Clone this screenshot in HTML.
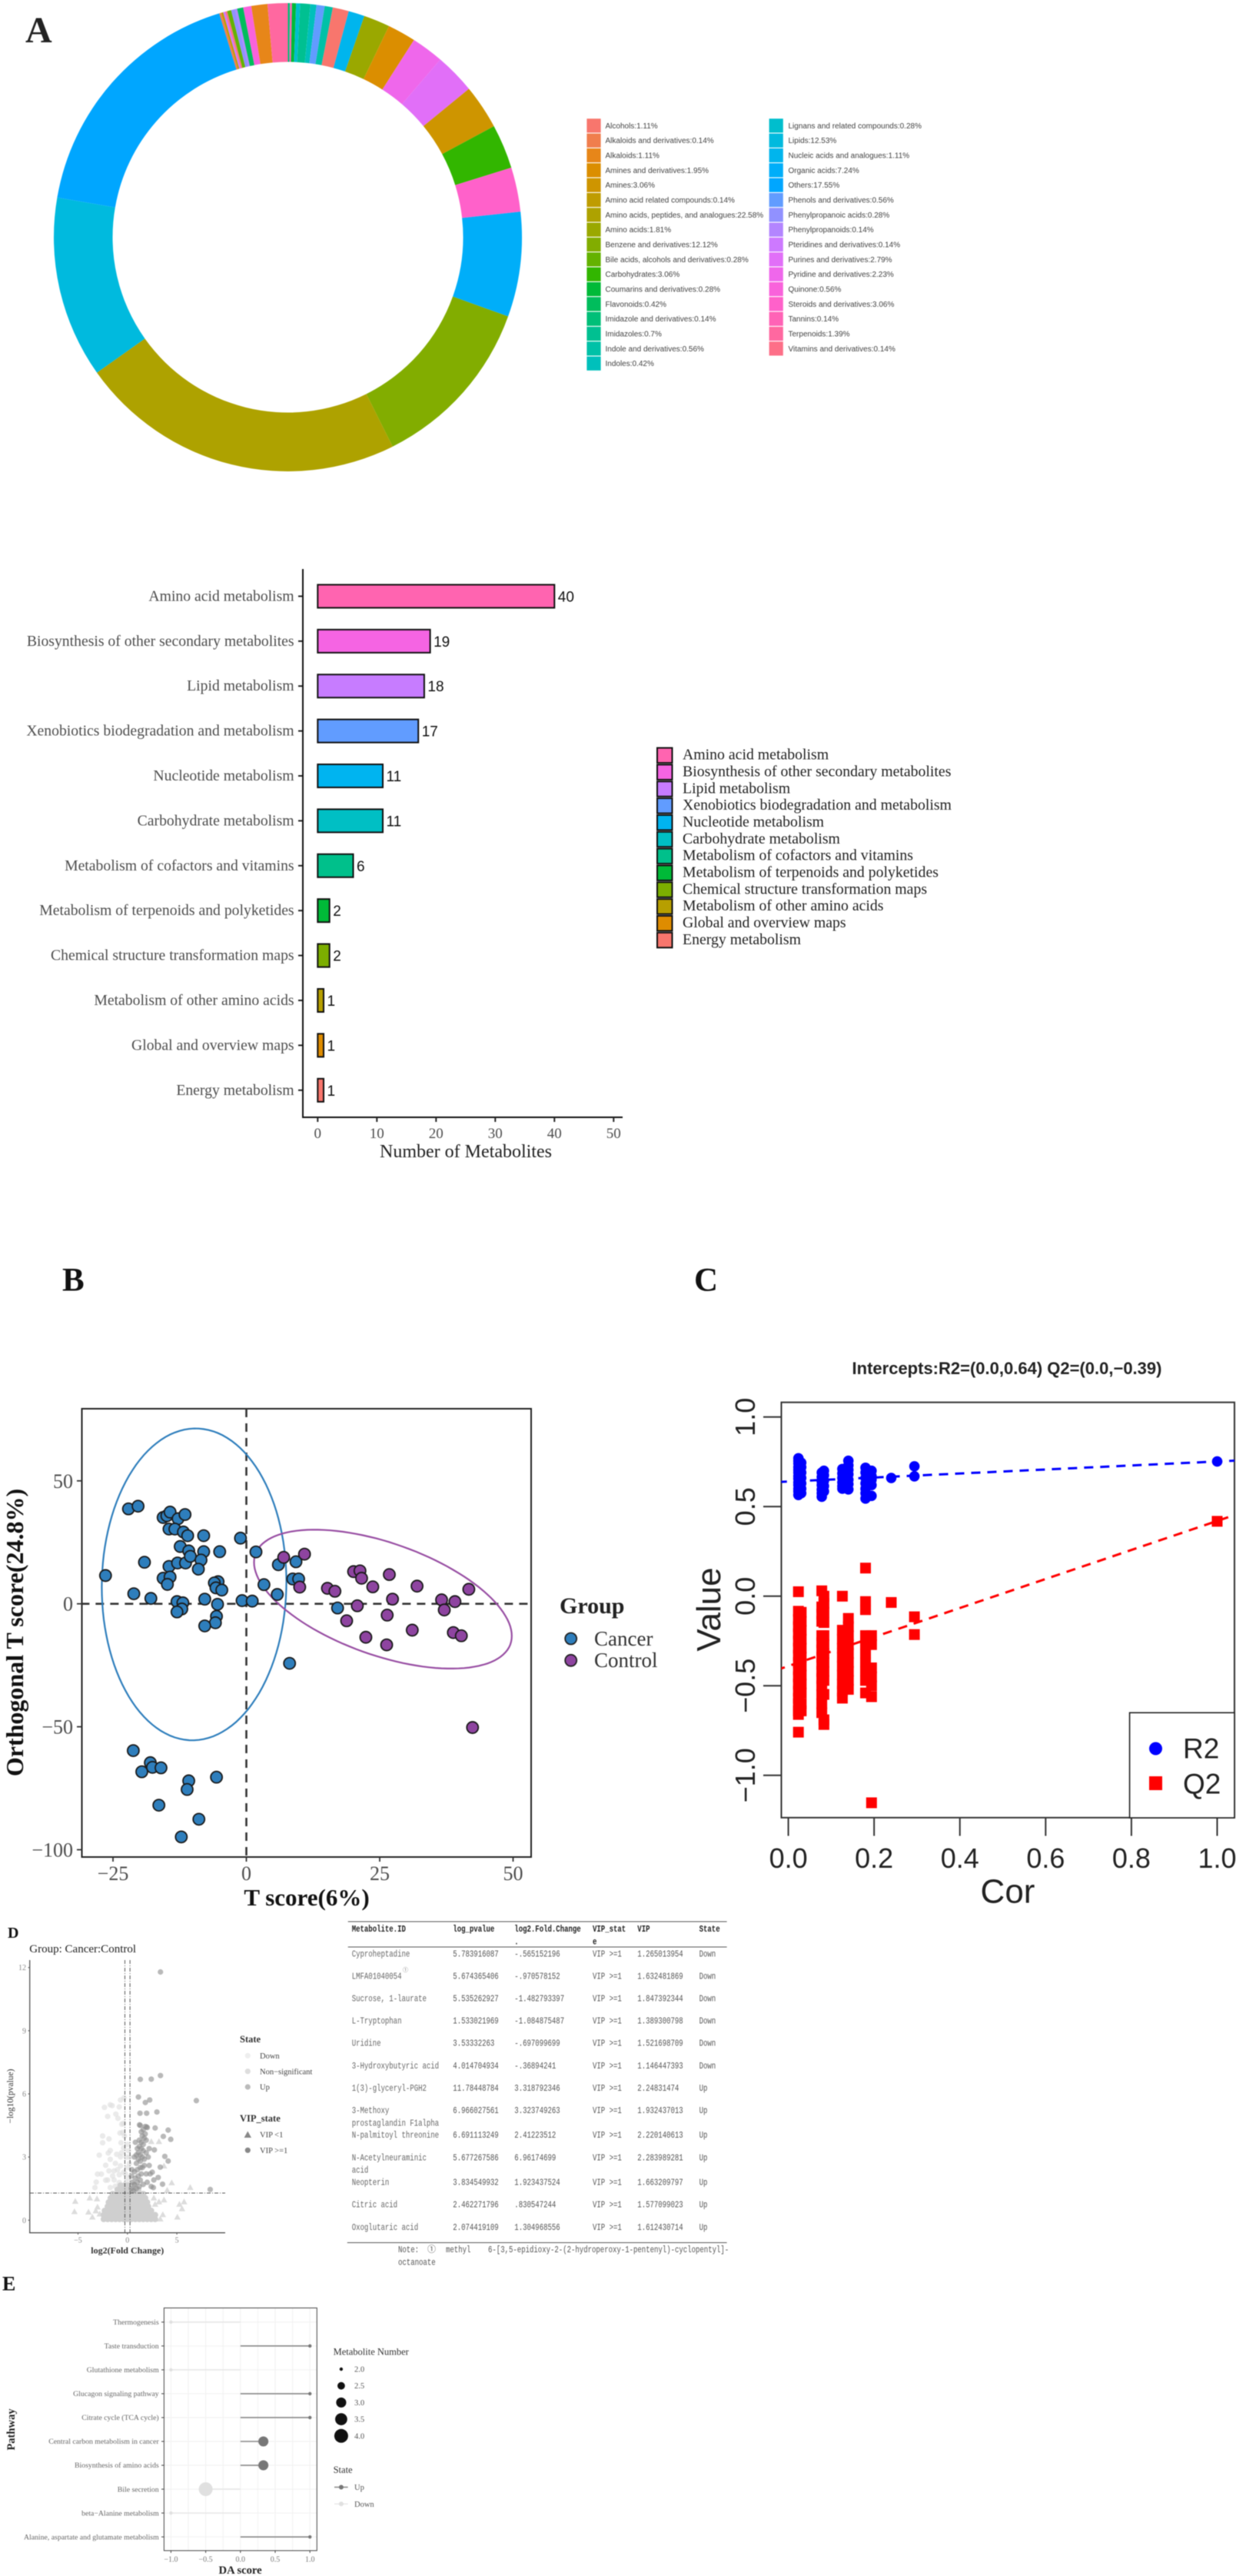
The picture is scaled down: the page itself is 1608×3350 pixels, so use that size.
<!DOCTYPE html>
<html lang="en">
<head>
<meta charset="utf-8">
<title>Metabolomics multi-panel figure</title>
<style>
html,body{margin:0;padding:0;background:#fff;width:1608px;height:3350px;overflow:hidden}
svg{display:block;filter:blur(0.5px)}
text{font-family:"Liberation Serif","Noto Serif CJK SC",serif}
.sans text,text.sans{font-family:"Liberation Sans","Noto Sans CJK SC",sans-serif}
.mono text{font-family:"Liberation Mono","Noto Sans CJK SC",monospace}
</style>
</head>
<body>
<svg id="figure" width="1608" height="3350" viewBox="0 0 1608 3350">
  <rect x="0" y="0" width="1608" height="3350" fill="#ffffff"/>

  <text x="33" y="55" font-size="48" font-weight="bold" fill="#222">A</text>
  <text x="81" y="1678.5" font-size="43" font-weight="bold" fill="#111">B</text>
  <text x="903" y="1678.5" font-size="43" font-weight="bold" fill="#111">C</text>
  <text x="10" y="2520" font-size="20" font-weight="bold" fill="#111">D</text>
  <text x="3" y="2978.5" font-size="26" font-weight="bold" fill="#111">E</text>

  <g id="donut"></g>
  <g id="donut-legend" class="sans"></g>

  <g id="bars"></g>
  <text x="606" y="1505" font-size="24" text-anchor="middle" fill="#222">Number of Metabolites</text>
  <g id="bar-legend"></g>

  <g id="pca"></g>
  <text x="399" y="2478" font-size="31" font-weight="bold" text-anchor="middle" fill="#111">T score(6%)</text>
  <text transform="rotate(-90 30 2123)" x="30" y="2123" font-size="32" font-weight="bold" text-anchor="middle" fill="#111">Orthogonal T score(24.8%)</text>
  <text x="728" y="2098" font-size="30" font-weight="bold" fill="#222">Group</text>
  <circle cx="742.7" cy="2131" r="7.5" fill="#2E7EBC" stroke="#222" stroke-width="1.8"/>
  <text x="773" y="2140" font-size="27" fill="#333">Cancer</text>
  <circle cx="742.7" cy="2159.3" r="7.5" fill="#8E44A0" stroke="#222" stroke-width="1.8"/>
  <text x="773" y="2168" font-size="27" fill="#333">Control</text>

  <defs>
    <clipPath id="perm-clip"><rect x="1016.5" y="1823.7" width="589.5" height="540.1"></rect></clipPath>
  </defs>
  <g id="perm" class="sans"></g>
  <g class="sans">
    <text x="1310" y="1787" font-size="22" font-weight="bold" text-anchor="middle" fill="#222">Intercepts:R2=(0.0,0.64) Q2=(0.0,−0.39)</text>
    <text x="1311" y="2474.6" font-size="44" text-anchor="middle" fill="#222">Cor</text>
    <text transform="rotate(-90 937 2093)" x="937" y="2093" font-size="44" text-anchor="middle" fill="#222">Value</text>
    <rect x="1469.6" y="2227.3" width="136.4" height="136.7" fill="#fff" stroke="#222" stroke-width="1.6"/>
    <circle cx="1503.5" cy="2274" r="8.5" fill="#0000ff"/>
    <text x="1539" y="2286.5" font-size="37" fill="#222">R2</text>
    <rect x="1495" y="2310" width="17" height="18" fill="#ff0000"/>
    <text x="1539" y="2332.5" font-size="37" fill="#222">Q2</text>
  </g>

  <text x="38.3" y="2539" font-size="15" fill="#222">Group: Cancer:Control</text>
  <g id="volcano"></g>
  <text x="165.8" y="2930.5" font-size="12" font-weight="bold" text-anchor="middle" fill="#333">log2(Fold Change)</text>
  <text transform="rotate(-90 17 2726)" x="17" y="2726" font-size="11.5" text-anchor="middle" fill="#333">−log10(pvalue)</text>
  <g>
    <text x="312" y="2656" font-size="12.5" font-weight="bold" fill="#333">State</text>
    <circle cx="322.3" cy="2673.3" r="3.6" fill="#eeeeee"/>
    <text x="338" y="2677" font-size="10.5" fill="#444">Down</text>
    <circle cx="322.3" cy="2693.7" r="3.6" fill="#dddddd"/>
    <text x="338" y="2697.4" font-size="10.5" fill="#444">Non−significant</text>
    <circle cx="322.3" cy="2714" r="3.6" fill="#bbbbbb"/>
    <text x="338" y="2717.7" font-size="10.5" fill="#444">Up</text>
    <text x="312" y="2759" font-size="12.5" font-weight="bold" fill="#333">VIP_state</text>
    <path d="M322.3 2771.5 L327 2780 L317.6 2780 Z" fill="#888888"/>
    <text x="338" y="2779.7" font-size="10.5" fill="#444">VIP &lt;1</text>
    <circle cx="322.3" cy="2796.3" r="3.6" fill="#888888"/>
    <text x="338" y="2800" font-size="10.5" fill="#444">VIP &gt;=1</text>
  </g>

  <g id="metabolite-table" class="mono"></g>

  <g id="lollipop"></g>
  <text x="312.6" y="3347" font-size="14.6" font-weight="bold" text-anchor="middle" fill="#222">DA score</text>
  <text transform="rotate(-90 19 3159.5)" x="19" y="3159.5" font-size="14.6" font-weight="bold" text-anchor="middle" fill="#222">Pathway</text>
  <text x="433.6" y="3062.5" font-size="12.5" fill="#333">Metabolite Number</text>
  <text x="433.6" y="3216" font-size="12.5" fill="#333">State</text>
  <g id="da-legend"></g>
</svg>

<script>
/* ---------- donut data ---------- */
const donutCategories = ["Alcohols","Alkaloids and derivatives","Alkaloids","Amines and derivatives","Amines","Amino acid related compounds","Amino acids, peptides, and analogues","Amino acids","Benzene and derivatives","Bile acids, alcohols and derivatives","Carbohydrates","Coumarins and derivatives","Flavonoids","Imidazole and derivatives","Imidazoles","Indole and derivatives","Indoles","Lignans and related compounds","Lipids","Nucleic acids and analogues","Organic acids","Others","Phenols and derivatives","Phenylpropanoic acids","Phenylpropanoids","Pteridines and derivatives","Purines and derivatives","Pyridine and derivatives","Quinone","Steroids and derivatives","Tannins","Terpenoids","Vitamins and derivatives"];
const donutValues = [1.11,0.14,1.11,1.95,3.06,0.14,22.58,1.81,12.12,0.28,3.06,0.28,0.42,0.14,0.7,0.56,0.42,0.28,12.53,1.11,7.24,17.55,0.56,0.28,0.14,0.14,2.79,2.23,0.56,3.06,0.14,1.39,0.14];
const donutOrder = ["Imidazole and derivatives","Tannins","Coumarins and derivatives","Lignans and related compounds","Imidazoles","Indoles","Phenols and derivatives","Indole and derivatives","Alcohols","Nucleic acids and analogues","Amino acids","Amines and derivatives","Pyridine and derivatives","Purines and derivatives","Amines","Carbohydrates","Steroids and derivatives","Organic acids","Benzene and derivatives","Amino acids, peptides, and analogues","Lipids","Others","Alkaloids and derivatives","Amino acid related compounds","Pteridines and derivatives","Vitamins and derivatives","Bile acids, alcohols and derivatives","Phenylpropanoic acids","Phenylpropanoids","Flavonoids","Quinone","Alkaloids","Terpenoids"];

/* ---------- bar data ---------- */
const barCategories = ["Amino acid metabolism","Biosynthesis of other secondary metabolites","Lipid metabolism","Xenobiotics biodegradation and metabolism","Nucleotide metabolism","Carbohydrate metabolism","Metabolism of cofactors and vitamins","Metabolism of terpenoids and polyketides","Chemical structure transformation maps","Metabolism of other amino acids","Global and overview maps","Energy metabolism"];
const barValues = [40,19,18,17,11,11,6,2,2,1,1,1];
const barTicks = [0,10,20,30,40,50];

/* ---------- score plot data: [T score, orthogonal T score] ---------- */
const pcaCancer = [[-26.4,11.5],[-22.1,38.6],[-20.3,39.7],[-15.6,35.1],[-14.9,35.8],[-14.3,37.3],[-12.8,34.6],[-11.5,36.3],[-14.5,30.4],[-13.4,30.4],[-11.8,29.2],[-11,27.7],[-8,27.7],[-1.1,26.7],[-12.4,23.3],[-10.8,21.5],[-8,21.2],[-5,21.2],[1.8,21.1],[-19.1,16.9],[-14.5,15.2],[-12.9,16.6],[-11.4,16.6],[-10.5,19.3],[-8.5,17.8],[-9,14.1],[6,15.9],[9.3,17.1],[-15.6,10.4],[-14.3,10.9],[-14.8,7.9],[-5.3,9],[-6,8.5],[-5.7,6.5],[-4.6,5.6],[3.3,7.8],[5.8,3.8],[8.7,10.1],[9.8,10.1],[-21.1,4.1],[-17.9,2.2],[-13,0.9],[-11.9,0.4],[-7.8,1.9],[-5.4,-0.2],[-0.8,1.3],[1.1,1.1],[-12.1,-2.1],[-13,-3.3],[-5.6,-5.1],[-5.8,-7.7],[-7.8,-9],[17.1,-1.7],[8.1,-24.2],[-21.2,-59.7],[-18,-64.6],[-17.6,-66.5],[-16,-66.7],[-19.6,-68.3],[-10.8,-72],[-11.1,-75.5],[-5.6,-70.5],[-16.4,-81.9],[-8.9,-87.6],[-12.2,-94.8]];
const pcaControl = [[7,18.9],[10.9,20.2],[10,6.8],[15.2,6.3],[16.6,5.1],[20.1,13.1],[21.3,13.4],[21.6,10.4],[23.7,6.9],[26.8,11.9],[27.4,1.9],[32,7.2],[20.8,-0.8],[26.4,-4.6],[18.8,-6.9],[31.1,-10.7],[22.4,-13.6],[26.3,-16.7],[36.6,1.6],[39.1,0.9],[37.1,-2.5],[41.7,5.9],[38.8,-11.7],[40.3,-13],[42.4,-50.3]];
const pcaXTicks = [-25,0,25,50];
const pcaYTicks = [50,0,-50,-100];
const cancerEllipseCentre = [-9.8,7.9];
const cancerEllipseSpread = [17.3,63.4];
const cancerEllipsePhase = 89;
const controlEllipseCentre = [25.6,1.9];
const controlEllipseSpread = [24.16,28.24];
const controlEllipsePhase = 122;

/* ---------- permutation data: [cor, value] ---------- */
const r2Points = [[0.0235,0.77],[0.0235,0.755],[0.0235,0.74],[0.0235,0.72],[0.0235,0.705],[0.0235,0.69],[0.0235,0.67],[0.0235,0.655],[0.0235,0.635],[0.0235,0.62],[0.0235,0.6],[0.0235,0.585],[0.0235,0.565],[0.03,0.745],[0.03,0.72],[0.03,0.69],[0.03,0.66],[0.03,0.63],[0.03,0.6],[0.03,0.575],[0.078,0.69],[0.078,0.665],[0.078,0.64],[0.078,0.62],[0.078,0.595],[0.078,0.575],[0.078,0.555],[0.083,0.7],[0.083,0.675],[0.083,0.645],[0.083,0.615],[0.083,0.585],[0.126,0.71],[0.126,0.685],[0.126,0.66],[0.126,0.635],[0.126,0.615],[0.126,0.6],[0.14,0.756],[0.14,0.73],[0.14,0.705],[0.14,0.68],[0.14,0.65],[0.14,0.625],[0.14,0.596],[0.18,0.717],[0.18,0.69],[0.18,0.66],[0.18,0.63],[0.18,0.6],[0.18,0.575],[0.18,0.545],[0.194,0.7],[0.194,0.67],[0.194,0.65],[0.194,0.62],[0.194,0.56],[0.24,0.66],[0.294,0.725],[0.294,0.669],[1,0.752]];
const q2Points = [[0.0235,0.025],[0.0235,-0.084],[0.0235,-0.13],[0.0235,-0.17],[0.0235,-0.21],[0.0235,-0.25],[0.0235,-0.29],[0.0235,-0.33],[0.0235,-0.37],[0.0235,-0.41],[0.0235,-0.45],[0.0235,-0.49],[0.0235,-0.53],[0.0235,-0.57],[0.0235,-0.6],[0.0235,-0.64],[0.0235,-0.66],[0.0235,-0.759],[0.03,-0.09],[0.03,-0.14],[0.03,-0.19],[0.03,-0.24],[0.03,-0.29],[0.03,-0.34],[0.03,-0.39],[0.03,-0.44],[0.03,-0.49],[0.03,-0.54],[0.03,-0.6],[0.03,-0.64],[0.078,0.03],[0.078,-0.06],[0.078,-0.1],[0.078,-0.14],[0.078,-0.22],[0.078,-0.26],[0.078,-0.3],[0.078,-0.34],[0.078,-0.38],[0.078,-0.42],[0.078,-0.46],[0.078,-0.5],[0.078,-0.55],[0.078,-0.6],[0.078,-0.65],[0.083,0.0],[0.083,-0.04],[0.083,-0.09],[0.083,-0.147],[0.083,-0.22],[0.083,-0.27],[0.083,-0.32],[0.083,-0.37],[0.083,-0.42],[0.083,-0.47],[0.083,-0.548],[0.083,-0.69],[0.083,-0.716],[0.126,0.0],[0.126,-0.19],[0.126,-0.24],[0.126,-0.29],[0.126,-0.34],[0.126,-0.39],[0.126,-0.44],[0.126,-0.49],[0.126,-0.53],[0.126,-0.569],[0.14,-0.124],[0.14,-0.17],[0.14,-0.22],[0.14,-0.27],[0.14,-0.32],[0.14,-0.37],[0.14,-0.42],[0.14,-0.47],[0.14,-0.52],[0.18,0.157],[0.18,-0.03],[0.18,-0.075],[0.18,-0.22],[0.18,-0.27],[0.18,-0.32],[0.18,-0.37],[0.18,-0.42],[0.18,-0.47],[0.18,-0.54],[0.194,-0.22],[0.194,-0.27],[0.194,-0.4],[0.194,-0.45],[0.194,-0.5],[0.194,-0.561],[0.194,-1.153],[0.24,-0.035],[0.294,-0.115],[0.294,-0.214],[1,0.418]];
const permXTicks = [0,0.2,0.4,0.6,0.8,1];
const permYTicks = [1,0.5,0,-0.5,-1];
const r2Intercept = 0.64;
const r2Slope = 0.112;
const q2Intercept = -0.39;
const q2Slope = 0.81;

/* ---------- volcano data: [log2 FC, -log10 p] ---------- */
const volcanoMassLevels = [0.05,0.25,0.45,0.65,0.85,1.05,1.25,1.45,1.65];
const volcanoMassFold = [
 [-2.4,-2,-1.6,-1.2,-0.8,-0.4,0,0.4,0.8,1.2,1.6,2,2.4,2.8],
 [-2.4,-2,-1.6,-1.2,-0.8,-0.4,0,0.4,0.8,1.2,1.6,2,2.4,2.8],
 [-2.3,-1.9,-1.5,-1.1,-0.7,-0.3,0.1,0.5,0.9,1.3,1.7,2.1,2.4],
 [-2,-1.6,-1.2,-0.8,-0.4,0,0.4,0.8,1.2,1.6,2.1],
 [-1.9,-1.5,-1.1,-0.7,-0.3,0.1,0.5,0.9,1.3,1.7,2],
 [-1.7,-1.3,-0.9,-0.5,-0.1,0.3,0.7,1.1,1.5,1.8],
 [-1.5,-1.1,-0.7,-0.3,0.1,0.5,0.9,1.3,1.6],
 [-1,-0.6,-0.2,0.2,0.6,1.1],
 [-0.7,-0.3,0,0.3,0.7]
];
const volcanoDown = [[-2.33,5.36],[-1.74,5.48],[-1.55,5.44],[-0.83,5.38],[-0.7,5.71],[-0.36,5.81],[-2,4.93],[-1.17,5.04],[-0.96,4.84],[-0.57,4.56],[-0.49,4.17],[-0.75,4.14],[-2.51,4],[-2.51,3.68],[-1.87,3.86],[-0.65,3.68],[-0.39,3.43],[-1.74,3.31],[-1.94,3.19],[-2.85,3.09],[-1.09,3.13],[-0.7,3.01],[-2.2,2.61],[-1.74,2.89],[-1.22,2.7],[-0.7,2.58],[-3.03,2.19],[-2.64,2.19],[-1.87,2.34],[-1.35,2.34],[-0.83,2.16],[-0.39,2.28],[-3.16,1.81],[-2,1.91],[-1.35,1.91],[-0.83,1.79],[-3.29,1.55],[-1.74,1.55],[-1.22,1.61],[-0.7,1.49],[-0.31,1.61],[0,3.6],[0.1,3.3],[0.2,3],[-0.1,3],[0,2.5],[0.1,2],[-0.1,1.8],[0.2,1.6],[-0.2,2.2],[0.2,2.7],[-0.4,4.6],[-0.3,4],[-0.6,3.2],[-1.5,2.1],[-1,2.4],[-2.2,1.9]];
const volcanoUp = [[3.34,11.79],[1.3,6.69],[2.41,6.7],[3.34,6.87],[6.97,5.68],[1.11,5.85],[1.81,5.59],[2.25,5.71],[1.27,5.08],[1.94,5.08],[2.98,5.14],[1.22,4.53],[1.94,4.43],[2.8,4.38],[4.12,4.28],[3.63,3.98],[4.38,3.84],[2.72,3.34],[3.78,3.03],[4.12,2.81],[3.32,2.52],[2.51,2.28],[3.11,2.03],[2.67,1.91],[3.55,1.71],[2.62,1.55],[8.37,1.46],[0.4,1.5],[0.5,1.8],[0.4,2.1],[0.45,2.4],[0.6,1.4],[0.7,1.7],[0.8,2],[0.7,2.3],[0.9,1.5],[1,1.8],[1.1,2.1],[1,2.4],[1.2,1.6],[1.3,1.9],[1.4,2.2],[1.3,2.5],[1.6,1.7],[1.5,2.5],[1.7,2.6],[0.9,2.7],[1.1,2.9],[1.3,2.8],[0.7,3],[0.9,3.1],[1.1,3.2],[1.3,3.1],[1.5,3],[1.7,2.9],[1,3.4],[1.2,3.5],[1.4,3.4],[1.6,3.3],[0.8,3.7],[1.2,3.8],[1.4,3.7],[1.6,3.6],[1.5,4],[1.7,3.9],[1.9,3.8],[1.4,4.2],[1.6,4.3],[1.8,4.1],[2,4.4],[1.3,4.5],[1.8,4.45],[2.1,3],[2.2,2.6],[1.9,2.2],[2.3,2.2],[2,1.8],[2.4,1.6],[2.2,3.4],[1.9,3.2]];
const volcanoLowVip = [[-5.28,0.9],[-5.36,0.41],[-3.94,0.39],[-3.55,0.15],[-3.08,1.02],[-3.81,1.06],[-3.03,0.63],[-3.2,0.45],[-2.8,0.3],[4.48,1.78],[4.02,1.43],[6.35,1.56],[2.67,1.06],[3.7,0.97],[3.19,0.88],[2.8,0.76],[5.26,0.76],[5.73,0.88],[5.52,0.55],[5.05,0.15],[3.58,0.27],[3.19,3.74],[2.41,3.74],[3.7,2.58],[2.67,0.09],[3.32,0.06]];
const volcanoXTicks = [-5,0,5];
const volcanoYTicks = [0,3,6,9,12];
const volcanoFoldCut = [-0.26,0.26];
const volcanoPCut = [1.29];

/* ---------- DA score data ---------- */
const pathwayNames = ["Thermogenesis","Taste transduction","Glutathione metabolism","Glucagon signaling pathway","Citrate cycle (TCA cycle)","Central carbon metabolism in cancer","Biosynthesis of amino acids","Bile secretion","beta−Alanine metabolism","Alanine, aspartate and glutamate metabolism"];
const pathwayScores = [-1,1,-1,1,1,0.33,0.33,-0.5,-1,1];
const pathwayCounts = [2,2,2,2,2,3,3,4,2,2];
const daTicks = [-1,-0.5,0,0.5,1];
const daGrid = [-0.75,-0.25,0.25,0.75];
const daLegendCounts = [2,2.5,3,3.5,4];

/* ---------- table text ---------- */
const tableHeader = ["Metabolite.ID","log_pvalue","log2.Fold.Change","VIP_stat","VIP","State"];
const tableRows = [
 ["Cyproheptadine","5.783916087","-.565152196","VIP >=1","1.265013954","Down"],
 ["LMFA01040054","5.674365406","-.970578152","VIP >=1","1.632481869","Down"],
 ["Sucrose, 1-laurate","5.535262927","-1.482793397","VIP >=1","1.847392344","Down"],
 ["L-Tryptophan","1.533021969","-1.084875487","VIP >=1","1.389300798","Down"],
 ["Uridine","3.53332263","-.697099699","VIP >=1","1.521698709","Down"],
 ["3-Hydroxybutyric acid","4.014704934","-.36894241","VIP >=1","1.146447393","Down"],
 ["1(3)-glyceryl-PGH2","11.78448784","3.318792346","VIP >=1","2.24831474","Up"],
 ["3-Methoxy","6.966027561","3.323749263","VIP >=1","1.932437013","Up"],
 ["N-palmitoyl threonine","6.691113249","2.41223512","VIP >=1","2.220140613","Up"],
 ["N-Acetylneuraminic","5.677267586","6.96174699","VIP >=1","2.283989281","Up"],
 ["Neopterin","3.834549932","1.923437524","VIP >=1","1.663209797","Up"],
 ["Citric acid","2.462271796",".830547244","VIP >=1","1.577099023","Up"],
 ["Oxoglutaric acid","2.074419109","1.304968556","VIP >=1","1.612430714","Up"]
];
const tableContinuations = [["prostaglandin F1alpha",7],["acid",9]];

/* ---------- helpers ---------- */
const figure = document.getElementById('figure');
const NS = figure.namespaceURI;
function mk(tag, attrs, parent) {
  const e = document.createElementNS(NS, tag);
  for (const k in attrs) e.setAttribute(k, attrs[k]);
  parent.appendChild(e);
  return e;
}
function label(str, x, y, size, attrs, parent) {
  const t = mk('text', Object.assign({x: x, y: y, 'font-size': size}, attrs), parent);
  t.textContent = str;
  return t;
}
function fmtMinus(v) { return String(v).replace('-', '−'); }
function hueColor(i, n) {
  const h = (15 + 360 * i / n) * Math.PI / 180, C = 100, L = 65;
  const Y = Math.pow((L + 16) / 116, 3);
  const up = C * Math.cos(h) / (13 * L) + 0.1978398;
  const vp = C * Math.sin(h) / (13 * L) + 0.4683363;
  const X = 9 * Y * up / (4 * vp);
  const Z = -X / 3 - 5 * Y + 3 * Y / vp;
  const lin = [3.2406*X - 1.5372*Y - 0.4986*Z, -0.9689*X + 1.8758*Y + 0.0415*Z, 0.0557*X - 0.2040*Y + 1.0570*Z];
  const rgb = lin.map(function (c) {
    c = Math.max(0, Math.min(1, c));
    c = c <= 0.0031308 ? 12.92 * c : 1.055 * Math.pow(c, 1 / 2.4) - 0.055;
    return Math.round(255 * c);
  });
  return 'rgb(' + rgb.join(',') + ')';
}

/* ---------- donut ---------- */
(function () {
  const g = document.getElementById('donut');
  const cx = 374.5, cy = 308.5, R = 304.5, r = 228;
  const total = donutValues.reduce(function (a, b) { return a + b; }, 0);
  function pt(rad, a) { return [cx + rad * Math.sin(a), cy - rad * Math.cos(a)]; }
  let cum = 0;
  donutOrder.forEach(function (name) {
    const idx = donutCategories.indexOf(name);
    const a0 = cum / total * 2 * Math.PI;
    cum += donutValues[idx];
    const a1 = cum / total * 2 * Math.PI;
    const p0 = pt(R, a0), p1 = pt(R, a1), p2 = pt(r, a1), p3 = pt(r, a0);
    const large = (a1 - a0) > Math.PI ? 1 : 0;
    const d = 'M' + p0 + ' A' + R + ' ' + R + ' 0 ' + large + ' 1 ' + p1 + ' L' + p2 + ' A' + r + ' ' + r + ' 0 ' + large + ' 0 ' + p3 + ' Z';
    const slice = mk('path', {d: d, fill: hueColor(idx, donutCategories.length)}, g);
    
    
  });
  const lg = document.getElementById('donut-legend');
  donutCategories.forEach(function (name, i) {
    const col = i < 17 ? 0 : 1;
    const row = i < 17 ? i : i - 17;
    const y = 154.3 + 19.33 * row;
    const key = mk('rect', {x: col ? 1000.6 : 763.4, y: y, width: 18.2, height: 18.2, fill: hueColor(i, donutCategories.length)}, lg);
    
    
    const t = label(name + ':' + donutValues[i] + '%', col ? 1025.5 : 787.5, y + 12.6, 10, {fill: '#444'}, lg);
    
    
  });
})();

/* ---------- bars ---------- */
(function () {
  const g = document.getElementById('bars');
  const bx = function (v) { return 413.3 + 7.7 * v; };
  const by = function (i) { return 775.4 + 58.4 * i; };
  const n = barCategories.length;
  barCategories.forEach(function (name, i) {
    const col = hueColor(n - 1 - i, n);
    const bar = mk('rect', {x: bx(0), y: by(i) - 15, width: bx(barValues[i]) - bx(0), height: 30, fill: col, stroke: '#111', 'stroke-width': 2}, g);
    
    
    const val = label(String(barValues[i]), bx(barValues[i]) + 4.5, by(i) + 7, 19, {fill: '#111', style: 'font-family:"Liberation Sans",sans-serif'}, g);
    
    
    const tick = mk('line', {x1: 388, x2: 394, y1: by(i), y2: by(i), stroke: '#222', 'stroke-width': 2}, g);
    
    
    const cat = label(name, 382.6, by(i) + 6, 19.7, {'text-anchor': 'end', fill: '#4d4d4d'}, g);
    
    
  });
  const yAxis = mk('line', {x1: 394, x2: 394, y1: 740, y2: 1454, stroke: '#111', 'stroke-width': 2}, g);
  
  
  const xAxis = mk('line', {x1: 393, x2: 810, y1: 1453, y2: 1453, stroke: '#111', 'stroke-width': 2}, g);
  
  
  barTicks.forEach(function (v) {
    const tick = mk('line', {x1: bx(v), x2: bx(v), y1: 1453, y2: 1459, stroke: '#222', 'stroke-width': 2}, g);
    
    
    const t = label(String(v), bx(v), 1480, 19, {'text-anchor': 'middle', fill: '#4d4d4d'}, g);
    
    
  });
  const lg = document.getElementById('bar-legend');
  barCategories.forEach(function (name, i) {
    const y = 971.6 + 21.84 * i;
    const key = mk('rect', {x: 855, y: y + 1, width: 19.5, height: 19.5, fill: hueColor(n - 1 - i, n), stroke: '#111', 'stroke-width': 2}, lg);
    
    
    const t = label(name, 888, y + 16, 19.8, {fill: '#222'}, lg);
    
    
  });
})();

/* ---------- score plot ---------- */
(function () {
  const g = document.getElementById('pca');
  const sx = function (v) { return 320.5 + 6.94 * v; };
  const sy = function (v) { return 2085.7 - 3.198 * v; };
  const box = mk('rect', {x: 106.5, y: 1832, width: 584.5, height: 583, fill: 'none', stroke: '#222', 'stroke-width': 2}, g);
  
  
  const h0 = mk('line', {x1: sx(-31), x2: 691, y1: sy(0), y2: sy(0), stroke: '#333', 'stroke-width': 2.6, 'stroke-dasharray': '11 8'}, g);
  
  
  const v0 = mk('line', {x1: sx(0), x2: sx(0), y1: 1832, y2: 2415, stroke: '#333', 'stroke-width': 2.6, 'stroke-dasharray': '11 8'}, g);
  
  
  pcaXTicks.forEach(function (v) {
    const tick = mk('line', {x1: sx(v), x2: sx(v), y1: 2415, y2: 2421, stroke: '#333', 'stroke-width': 1.8}, g);
    
    
    const t = label(fmtMinus(v), sx(v), 2445, 26, {'text-anchor': 'middle', fill: '#4d4d4d'}, g);
    
    
  });
  pcaYTicks.forEach(function (v) {
    const tick = mk('line', {x1: 100, x2: 106.5, y1: sy(v), y2: sy(v), stroke: '#333', 'stroke-width': 1.8}, g);
    
    
    const t = label(fmtMinus(v), 95, sy(v) + 9, 26, {'text-anchor': 'end', fill: '#4d4d4d'}, g);
    
    
  });
  function ellipsePath(c, s, phase) {
    const pts = [];
    for (let k = 0; k < 120; k++) {
      const t = k / 120 * 2 * Math.PI;
      pts.push(sx(c[0] + s[0] * Math.cos(t)).toFixed(1) + ' ' + sy(c[1] + s[1] * Math.cos(t + phase * Math.PI / 180)).toFixed(1));
    }
    return 'M' + pts.join(' L') + ' Z';
  }
  const e1 = mk('path', {d: ellipsePath(cancerEllipseCentre, cancerEllipseSpread, cancerEllipsePhase), fill: 'none', stroke: '#2E7EBC', 'stroke-width': 2.2}, g);
  
  
  const e2 = mk('path', {d: ellipsePath(controlEllipseCentre, controlEllipseSpread, controlEllipsePhase), fill: 'none', stroke: '#984EA3', 'stroke-width': 2.2}, g);
  
  
  pcaCancer.forEach(function (p) {
    const c = mk('circle', {cx: sx(p[0]), cy: sy(p[1]), r: 7.5, fill: '#2E7EBC', stroke: '#1a1a1a', 'stroke-width': 1.8}, g);
    
    
  });
  pcaControl.forEach(function (p) {
    const c = mk('circle', {cx: sx(p[0]), cy: sy(p[1]), r: 7.5, fill: '#8E44A0', stroke: '#1a1a1a', 'stroke-width': 1.8}, g);
    
    
  });
})();

/* ---------- permutation plot ---------- */
(function () {
  const g = document.getElementById('perm');
  const sx = function (v) { return 1025.6 + 557.9 * v; };
  const sy = function (v) { return 2075.8 - 233 * v; };
  const box = mk('rect', {x: 1016.5, y: 1823.7, width: 589.5, height: 540.1, fill: 'none', stroke: '#333', 'stroke-width': 2}, g);
  
  
  permXTicks.forEach(function (v) {
    const tick = mk('line', {x1: sx(v), x2: sx(v), y1: 2363.8, y2: 2387.5, stroke: '#333', 'stroke-width': 2}, g);
    
    
    const t = label(v.toFixed(1), sx(v), 2429, 36, {'text-anchor': 'middle', fill: '#222'}, g);
    
    
  });
  permYTicks.forEach(function (v) {
    const tick = mk('line', {x1: 993, x2: 1016.5, y1: sy(v), y2: sy(v), stroke: '#333', 'stroke-width': 2}, g);
    
    
    const t = label(fmtMinus(v.toFixed(1)), 982, sy(v), 36, {'text-anchor': 'middle', fill: '#222', transform: 'rotate(-90 982 ' + sy(v) + ')'}, g);
    
    
  });
  const clip = mk('g', {'clip-path': 'url(#perm-clip)'}, g);
  
  
  const lineR = mk('line', {x1: sx(-0.1), x2: sx(1.1), y1: sy(r2Intercept - 0.1 * r2Slope), y2: sy(r2Intercept + 1.1 * r2Slope), stroke: '#0000ff', 'stroke-width': 3, 'stroke-dasharray': '12 9'}, clip);
  
  
  const lineQ = mk('line', {x1: sx(-0.1), x2: sx(1.1), y1: sy(q2Intercept - 0.1 * q2Slope), y2: sy(q2Intercept + 1.1 * q2Slope), stroke: '#ff0000', 'stroke-width': 3, 'stroke-dasharray': '12 9'}, clip);
  
  
  r2Points.forEach(function (p) {
    const c = mk('circle', {cx: sx(p[0]), cy: sy(p[1]), r: 6.8, fill: '#0000ff'}, clip);
    
    
  });
  q2Points.forEach(function (p) {
    const s = mk('rect', {x: sx(p[0]) - 7, y: sy(p[1]) - 7, width: 14, height: 14, fill: '#ff0000'}, clip);
    
    
  });
})();

/* ---------- volcano ---------- */
(function () {
  const g = document.getElementById('volcano');
  const sx = function (v) { return 165.8 + 12.86 * v; };
  const sy = function (v) { return 2887.3 - 27.38 * v; };
  function tri(p, r) {
    const x = sx(p[0]), y = sy(p[1]);
    return 'M' + x + ' ' + (y - r) + ' L' + (x + r) + ' ' + (y + r * 0.8) + ' L' + (x - r) + ' ' + (y + r * 0.8) + ' Z';
  }
  volcanoLowVip.forEach(function (p) {
    const m = mk('path', {d: tri(p, 4.2), fill: '#dcdcdc'}, g);
    
    
  });
  volcanoDown.forEach(function (p) {
    const m = mk('circle', {cx: sx(p[0]), cy: sy(p[1]), r: 3.6, fill: '#dedede', opacity: 0.65}, g);
    
    
  });
  volcanoMassLevels.forEach(function (y, i) {
    volcanoMassFold[i].forEach(function (x) {
      const m = mk('circle', {cx: sx(x), cy: sy(y), r: 4, fill: '#cfcfcf'}, g);
      
      
    });
  });
  volcanoUp.forEach(function (p) {
    const m = mk('circle', {cx: sx(p[0]), cy: sy(p[1]), r: 3.6, fill: '#8e8e8e', opacity: 0.62}, g);
    
    
  });
  volcanoFoldCut.forEach(function (v) {
    const l = mk('line', {x1: sx(v), x2: sx(v), y1: 2549, y2: 2903, stroke: '#555', 'stroke-width': 1, 'stroke-dasharray': '5 2 1 2'}, g);
    
    
  });
  volcanoPCut.forEach(function (v) {
    const l = mk('line', {x1: 39, x2: 293, y1: sy(v), y2: sy(v), stroke: '#555', 'stroke-width': 1, 'stroke-dasharray': '5 2 1 2'}, g);
    
    
  });
  const yAxis = mk('line', {x1: 38.7, x2: 38.7, y1: 2549, y2: 2904, stroke: '#444', 'stroke-width': 1.2}, g);
  
  
  const xAxis = mk('line', {x1: 38, x2: 293, y1: 2903.6, y2: 2903.6, stroke: '#444', 'stroke-width': 1.2}, g);
  
  
  volcanoXTicks.forEach(function (v) {
    const tick = mk('line', {x1: sx(v), x2: sx(v), y1: 2904, y2: 2906, stroke: '#555', 'stroke-width': 1}, g);
    
    
    const t = label(fmtMinus(v), sx(v), 2916.5, 10, {'text-anchor': 'middle', fill: '#888'}, g);
    
    
  });
  volcanoYTicks.forEach(function (v) {
    const tick = mk('line', {x1: 36.5, x2: 38.7, y1: sy(v), y2: sy(v), stroke: '#555', 'stroke-width': 1}, g);
    
    
    const t = label(String(v), 34, sy(v) + 3.5, 10, {'text-anchor': 'end', fill: '#888'}, g);
    
    
  });
})();

/* ---------- table ---------- */
(function () {
  const g = document.getElementById('metabolite-table');
  const colX = [457.7, 589.3, 669.3, 771, 829.3, 909.6];
  const rowY = [2540.3, 2569.3, 2598.7, 2627.7, 2656.7, 2686, 2715, 2744, 2776, 2805.5, 2837.6, 2866.7, 2895.8];
  const cw = 5.4;
  function cell(str, x, y, color, weight) {
    const t = label(str, x, y + 4, 12, {fill: color, 'font-weight': weight, textLength: (str.length * cw).toFixed(1), lengthAdjust: 'spacingAndGlyphs'}, g);
    return t;
  }
  [[2499, 452.7], [2532, 452.7], [2916.5, 451.8]].forEach(function (r) {
    const l = mk('line', {x1: r[1], x2: 945.6, y1: r[0], y2: r[0], stroke: '#555', 'stroke-width': 1}, g);
    
    
  });
  tableHeader.forEach(function (h, i) {
    const t = cell(h, colX[i], 2508, '#222', 'bold');
    
    
  });
  const h2a = cell('.', colX[2], 2524.3, '#222', 'bold');
  
  
  const h2b = cell('e', colX[3], 2524.3, '#222', 'bold');
  
  
  tableRows.forEach(function (row, r) {
    row.forEach(function (v, c) {
      const t = cell(v, colX[c], rowY[r], c === 0 ? '#666' : '#555', 'normal');
      
      
    });
  });
  tableContinuations.forEach(function (pair) {
    const t = cell(pair[0], colX[0], pair[1] === 7 ? 2760.3 : 2821.6, '#666', 'normal');
    
    
  });
  const sup = label('①', 524, 2564, 7, {fill: '#777'}, g);
  
  
  const n1 = cell('Note:', 518, 2925, '#555', 'normal');
  
  
  const n2 = label('①', 556, 2928.5, 11, {fill: '#555'}, g);
  
  
  const n3 = cell('methyl', 580, 2925, '#555', 'normal');
  
  
  const n4 = cell('6-[3,5-epidioxy-2-(2-hydroperoxy-1-pentenyl)-cyclopentyl]-', 635, 2925, '#555', 'normal');
  
  
  const n5 = cell('octanoate', 518, 2941.7, '#555', 'normal');
  
  
})();

/* ---------- DA score lollipop ---------- */
(function () {
  const g = document.getElementById('lollipop');
  const sx = function (v) { return 312.8 + 90.4 * v; };
  const sy = function (i) { return 3019.8 + 31.04 * i; };
  const radius = function (n) { return Math.sqrt(4.84 + 38.1 * (n - 2)); };
  daGrid.concat(daTicks).forEach(function (v) {
    const l = mk('line', {x1: sx(v), x2: sx(v), y1: 3001.4, y2: 3317, stroke: '#f1f1f1', 'stroke-width': 1}, g);
    
    
  });
  pathwayNames.forEach(function (name, i) {
    const l = mk('line', {x1: 213.4, x2: 412.3, y1: sy(i), y2: sy(i), stroke: '#f1f1f1', 'stroke-width': 1}, g);
    
    
  });
  pathwayNames.forEach(function (name, i) {
    const up = pathwayScores[i] > 0;
    const st = mk('line', {x1: sx(0), x2: sx(pathwayScores[i]), y1: sy(i), y2: sy(i), stroke: up ? '#888888' : '#e6e6e6', 'stroke-width': 1.6}, g);
    
    
    const d = mk('circle', {cx: sx(pathwayScores[i]), cy: sy(i), r: radius(pathwayCounts[i]), fill: up ? '#777777' : '#e0e0e0'}, g);
    
    
    const tick = mk('line', {x1: 210, x2: 213.4, y1: sy(i), y2: sy(i), stroke: '#444', 'stroke-width': 1}, g);
    
    
    const t = label(name, 206.7, sy(i) + 3.2, 9.75, {'text-anchor': 'end', fill: '#666'}, g);
    
    
  });
  const box = mk('rect', {x: 213.4, y: 3001.4, width: 198.9, height: 315.6, fill: 'none', stroke: '#444', 'stroke-width': 1}, g);
  
  
  daTicks.forEach(function (v) {
    const tick = mk('line', {x1: sx(v), x2: sx(v), y1: 3317, y2: 3320, stroke: '#444', 'stroke-width': 1}, g);
    
    
    const t = label(fmtMinus(v.toFixed(1)), sx(v), 3331.5, 10, {'text-anchor': 'middle', fill: '#777'}, g);
    
    
  });
  const lg = document.getElementById('da-legend');
  daLegendCounts.forEach(function (n, i) {
    const y = 3081 + 21.7 * i;
    const d = mk('circle', {cx: 443.9, cy: y, r: radius(n), fill: '#111'}, lg);
    
    
    const t = label(n.toFixed(1), 461, y + 3.5, 10.5, {fill: '#555'}, lg);
    
    
  });
  [['Up', 3234.5, '#777777', '#888888'], ['Down', 3256.3, '#e0e0e0', '#e6e6e6']].forEach(function (s) {
    const l = mk('line', {x1: 435, x2: 452.6, y1: s[1], y2: s[1], stroke: s[3], 'stroke-width': 1.4}, lg);
    
    
    const d = mk('circle', {cx: 443.9, cy: s[1], r: 3, fill: s[2]}, lg);
    
    
    const t = label(s[0], 461, s[1] + 3.5, 10.5, {fill: '#555'}, lg);
    
    
  });
})();
</script>
</body>
</html>
